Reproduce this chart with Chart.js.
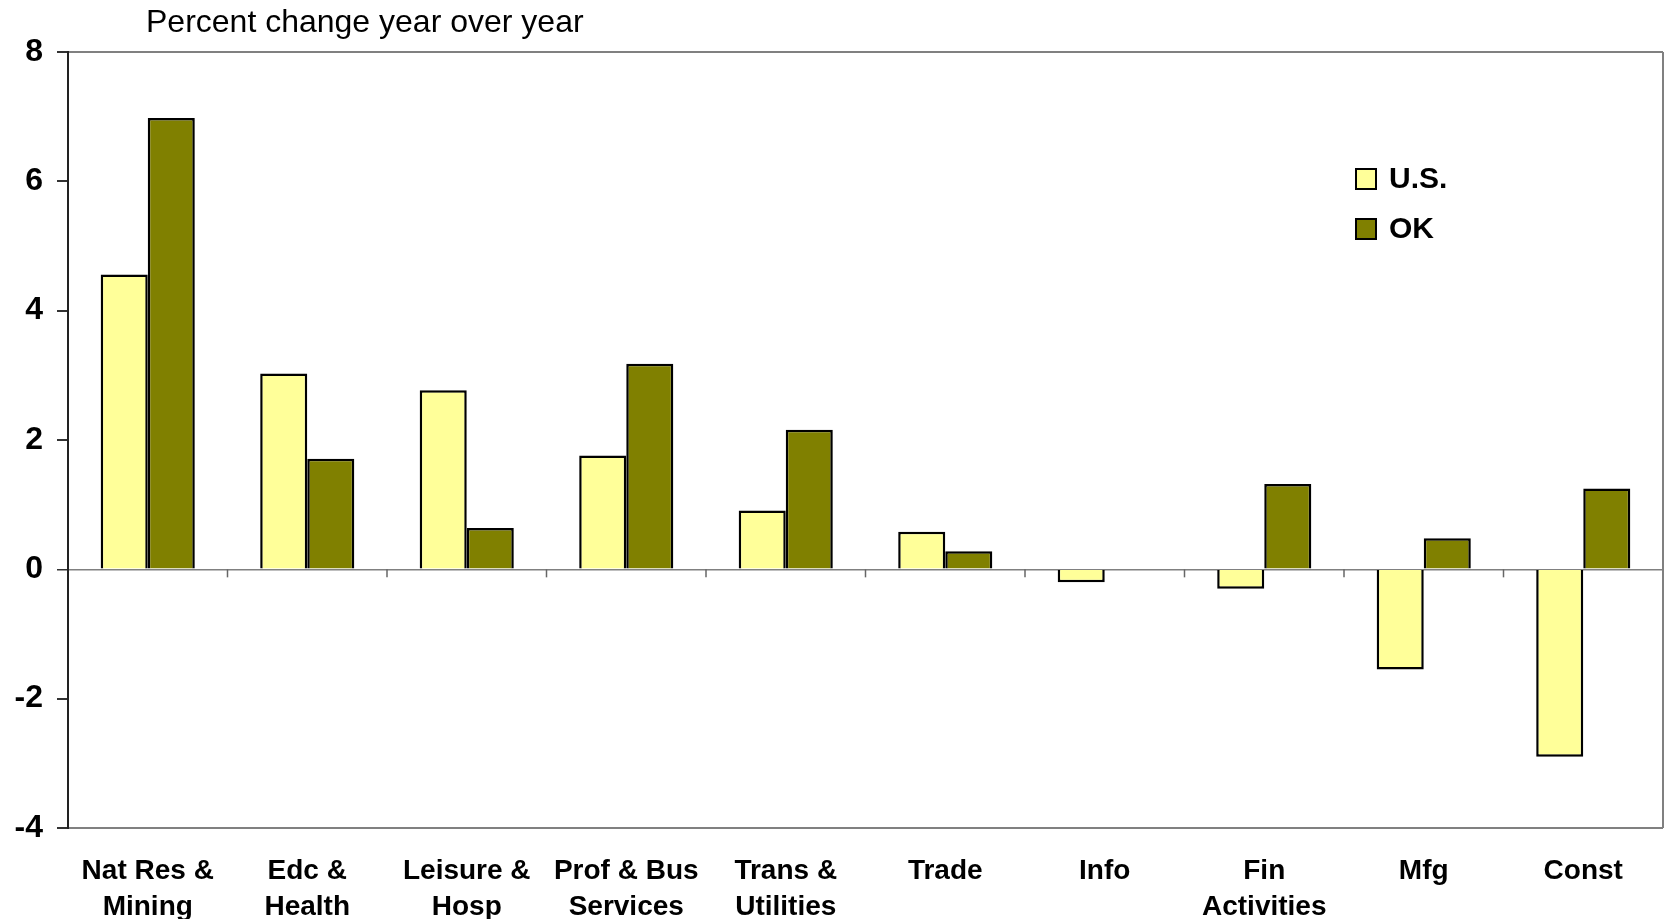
<!DOCTYPE html>
<html>
<head>
<meta charset="utf-8">
<script src="https://cdn.jsdelivr.net/npm/chart.js@4.4.1/dist/chart.umd.min.js"></script>
<style>
  body { margin: 0; background: #fff; }
  #wrap { width: 1668px; height: 919px; }
</style>
</head>
<body>
<div id="wrap"><canvas id="chart"></canvas></div>
<script>
const categories = [
  ["Nat Res &", "Mining"], ["Edc &", "Health"], ["Leisure &", "Hosp"],
  ["Prof & Bus", "Services"], ["Trans &", "Utilities"], ["Trade"], ["Info"],
  ["Fin", "Activities"], ["Mfg"], ["Const"]
];
const usValues = [4.56, 3.03, 2.77, 1.76, 0.91, 0.58, -0.20, -0.30, -1.55, -2.90];
const okValues = [6.98, 1.71, 0.64, 3.18, 2.16, 0.28, 0, 1.32, 0.48, 1.25];
const yTicks = [8, 6, 4, 2, 0, -2, -4];
const titleText = "Percent change year over year";

const FONT = "'Liberation Sans', Arial, sans-serif";

// title, legend, right border and the little ticks on the zero line
const extras = {
  id: "extras",
  afterDatasetsDraw(chart) {
    const { ctx, chartArea, scales } = chart;
    const x = scales.x, y = scales.y;
    const y0 = y.getPixelForValue(0);
    ctx.save();
    ctx.strokeStyle = "#808080";
    ctx.lineWidth = 2;
    ctx.beginPath();
    ctx.moveTo(chartArea.right, chartArea.top);
    ctx.lineTo(chartArea.right, chartArea.bottom);
    ctx.stroke();

    ctx.lineWidth = 1.5;
    ctx.strokeStyle = "#666";
    for (let i = 1; i < categories.length; i++) {
      const bx = (x.getPixelForValue(i - 1) + x.getPixelForValue(i)) / 2;
      ctx.beginPath();
      ctx.moveTo(bx, y0);
      ctx.lineTo(bx, y0 + 8);
      ctx.stroke();
    }

    ctx.fillStyle = "#000";
    ctx.font = "32px " + FONT;
    ctx.textBaseline = "alphabetic";
    ctx.fillText(titleText, 146, 32);

    // legend
    ctx.font = "bold 30px " + FONT;
    ctx.textBaseline = "middle";
    chart.data.datasets.forEach((ds, i) => {
      const cy = 179 + i * 50;
      ctx.fillStyle = ds.backgroundColor;
      ctx.fillRect(1356, cy - 10, 20, 20);
      ctx.strokeStyle = "#000";
      ctx.lineWidth = 2;
      ctx.strokeRect(1356, cy - 10, 20, 20);
      ctx.fillStyle = "#000";
      ctx.fillText(ds.label, 1389, cy + 1);
    });
    ctx.restore();
  }
};

new Chart(document.getElementById("chart"), {
  type: "bar",
  data: {
    labels: categories,
    datasets: [
      { label: "U.S.", data: usValues, backgroundColor: "#FFFF99", borderColor: "#000", borderWidth: 2.5 },
      { label: "OK", data: okValues, backgroundColor: "#808000", borderColor: "#000", borderWidth: 2.5 }
    ]
  },
  options: {
    responsive: true,
    maintainAspectRatio: false,
    animation: false,
    layout: { padding: { top: 52, right: 5, left: 0, bottom: 0 } },
    datasets: { bar: { categoryPercentage: 0.59, barPercentage: 1.0 } },
    plugins: {
      legend: { display: false },
      title: { display: false },
      tooltip: { enabled: false }
    },
    scales: {
      x: {
        grid: { display: false },
        border: { display: false },
        ticks: {
          color: "#000",
          font: { family: FONT, size: 28, weight: "bold", lineHeight: 1.3 },
          padding: 17,
          maxRotation: 0,
          autoSkip: false
        },
        afterFit(s) { s.height = 91; }
      },
      y: {
        min: -4,
        max: 8,
        afterBuildTicks(s) { s.ticks = yTicks.map(v => ({ value: v })); },
        grid: {
          color: ctx => (ctx.tick && [8, 0, -4].includes(ctx.tick.value)) ? "#808080" : "transparent",
          lineWidth: ctx => (ctx.tick && ctx.tick.value === 0) ? 1.5 : 2,
          tickColor: "#333",
          tickLength: 11,
          drawTicks: true
        },
        border: { color: "#222", width: 2 },
        ticks: {
          color: "#000",
          font: { family: FONT, size: 32, weight: "bold" },
          padding: 14
        },
        afterFit(s) { s.width = 68; }
      }
    }
  },
  plugins: [extras]
});
</script>
</body>
</html>
